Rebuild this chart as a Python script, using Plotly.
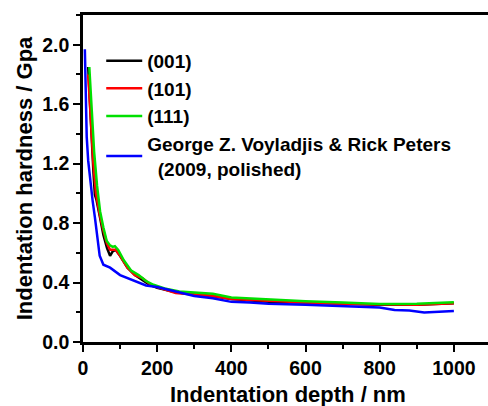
import plotly.graph_objects as go

x_001 = [14, 20, 28, 32, 36, 45, 55, 65, 73, 80, 88, 100, 120, 140, 160, 180, 200, 250, 300, 350, 400, 500, 600, 700, 800, 900, 1000]
y_001 = [1.85, 1.5, 1.15, 0.99, 0.96, 0.85, 0.72, 0.63, 0.58, 0.61, 0.62, 0.58, 0.5, 0.45, 0.42, 0.385, 0.365, 0.335, 0.32, 0.31, 0.29, 0.27, 0.265, 0.255, 0.25, 0.25, 0.26]

x_101 = [14, 20, 28, 35, 45, 55, 65, 73, 80, 88, 100, 120, 140, 160, 180, 200, 250, 300, 350, 400, 500, 600, 700, 800, 900, 1000]
y_101 = [1.8, 1.5, 1.2, 1.0, 0.86, 0.75, 0.66, 0.62, 0.62, 0.62, 0.58, 0.5, 0.45, 0.43, 0.39, 0.37, 0.33, 0.32, 0.31, 0.29, 0.275, 0.265, 0.255, 0.25, 0.25, 0.26]

x_111 = [17, 22, 30, 38, 46, 55, 64, 73, 80, 86, 95, 110, 130, 150, 170, 190, 220, 260, 300, 350, 400, 500, 600, 700, 800, 900, 1000]
y_111 = [1.85, 1.6, 1.28, 1.05, 0.88, 0.77, 0.68, 0.65, 0.64, 0.645, 0.62, 0.55, 0.48, 0.45, 0.41, 0.385, 0.36, 0.34, 0.335, 0.325, 0.30, 0.285, 0.275, 0.265, 0.255, 0.258, 0.268]

x_ref = [5, 7, 10, 14, 19, 26, 32, 38, 45, 55, 73, 100, 120, 140, 170, 200, 250, 300, 350, 400, 450, 500, 600, 700, 800, 840, 880, 920, 960, 1000]
y_ref = [1.97, 1.6, 1.38, 1.22, 1.09, 0.95, 0.84, 0.7, 0.58, 0.52, 0.50, 0.45, 0.43, 0.41, 0.38, 0.37, 0.34, 0.31, 0.295, 0.27, 0.265, 0.258, 0.25, 0.24, 0.232, 0.215, 0.212, 0.198, 0.205, 0.208]

names = ["(001)", "(101)", "(111)", "George Z. Voyladjis &amp; Rick Peters<br>  (2009, polished)"]
colors = ["#000000", "#ff0000", "#00e000", "#0000ff"]
x_title = "Indentation depth / nm"
y_title = "Indentation hardness / Gpa"

FONT = "Arial, Liberation Sans, sans-serif"

fig = go.Figure()
for xs, ys, n, c in zip([x_001, x_101, x_111, x_ref], [y_001, y_101, y_111, y_ref], names, colors):
    fig.add_trace(go.Scatter(x=xs, y=ys, mode="lines", name=n, line=dict(color=c, width=2.5)))

axis_common = dict(
    showgrid=False, zeroline=False, showline=True, linecolor="black", linewidth=2.5,
    ticks="outside", ticklen=7, tickwidth=2, tickcolor="black", automargin=False,
    tickfont=dict(family=FONT, size=19.5, color="black", weight="bold"),
)

fig.update_layout(
    width=488, height=406,
    margin=dict(l=83, r=0, t=15, b=64),
    plot_bgcolor="white", paper_bgcolor="white",
    xaxis=dict(range=[0, 1092], dtick=200, mirror=True,
               minor=dict(dtick=100, ticks="outside", ticklen=4, tickwidth=1.5, tickcolor="black"),
               **axis_common),
    yaxis=dict(range=[0, 2.2], dtick=0.4, tickformat=".1f",
               minor=dict(dtick=0.2, ticks="outside", ticklen=4, tickwidth=1.5, tickcolor="black"),
               title=dict(text=y_title, standoff=4,
                          font=dict(family=FONT, size=22, color="black", weight="bold")),
               **axis_common),
    showlegend=True,
    legend=dict(x=0.045, y=0.918, xanchor="left", yanchor="top", bgcolor="rgba(0,0,0,0)",
                font=dict(family=FONT, size=19, color="black", weight="bold"),
                itemwidth=36, tracegroupgap=0),
)

fig.add_annotation(text=x_title, xref="paper", yref="paper", x=0.505, y=-0.162,
                   xanchor="center", yanchor="middle", showarrow=False,
                   font=dict(family=FONT, size=22, color="black", weight="bold"))

fig.write_html("out.html")
